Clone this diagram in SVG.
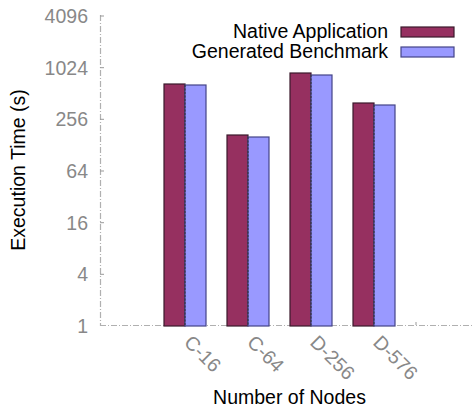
<svg xmlns="http://www.w3.org/2000/svg" width="474" height="413" viewBox="0 0 474 413">
<style>
text{font-family:"Liberation Sans",Arial,sans-serif;font-size:19.5px}
.tick{fill:#888;text-anchor:end}
.xl{fill:#888}
.title{fill:#000}
.axis{stroke:#b0b0b0;stroke-width:1.2;fill:none;stroke-dasharray:6 2 1 2}
.tk{stroke:#999;stroke-width:1}
.nat{fill:#963060;stroke:#3a1a2c;stroke-width:1.2}
.gen{fill:#9999ff;stroke:#444488;stroke-width:1.2}
.sep{stroke:#333;stroke-width:1;stroke-dasharray:2 1.5}
</style>
<rect width="474" height="413" fill="#fff"/>
<g id="axes">
<line class="axis" x1="100.5" y1="15" x2="100.5" y2="326"/>
<line class="axis" x1="100" y1="325.5" x2="474" y2="325.5"/>
<g class="tk">
<line x1="100" y1="16" x2="104" y2="16"/>
<line x1="100" y1="67.7" x2="104" y2="67.7"/>
<line x1="100" y1="119.3" x2="104" y2="119.3"/>
<line x1="100" y1="171" x2="104" y2="171"/>
<line x1="100" y1="222.7" x2="104" y2="222.7"/>
<line x1="100" y1="274.3" x2="104" y2="274.3"/>
<line x1="416" y1="322" x2="416" y2="325"/>
</g>
<text class="tick" x="88" y="23">4096</text>
<text class="tick" x="88" y="74.7">1024</text>
<text class="tick" x="88" y="126.3">256</text>
<text class="tick" x="88" y="178">64</text>
<text class="tick" x="88" y="229.7">16</text>
<text class="tick" x="88" y="281.3">4</text>
<text class="tick" x="88" y="333">1</text>
<text class="xl" transform="translate(183 343.5) rotate(45)">C-16</text>
<text class="xl" transform="translate(246 343.5) rotate(45)">C-64</text>
<text class="xl" transform="translate(309 343.5) rotate(45)">D-256</text>
<text class="xl" transform="translate(372 343.5) rotate(45)">D-576</text>
<text class="title" transform="translate(25 170) rotate(-90)" text-anchor="middle">Execution Time (s)</text>
<text class="title" x="289.5" y="404" text-anchor="middle">Number of Nodes</text>
</g>
<g id="bars">
<rect class="nat" x="164" y="84" width="21" height="242"/>
<rect class="gen" x="185" y="85" width="21" height="241"/>
<line class="sep" x1="185" y1="85" x2="185" y2="326"/>
<rect class="nat" x="227" y="135" width="21" height="191"/>
<rect class="gen" x="248" y="137" width="21" height="189"/>
<line class="sep" x1="248" y1="137" x2="248" y2="326"/>
<rect class="nat" x="290" y="73" width="21" height="253"/>
<rect class="gen" x="311" y="75" width="21" height="251"/>
<line class="sep" x1="311" y1="75" x2="311" y2="326"/>
<rect class="nat" x="353" y="103" width="21" height="223"/>
<rect class="gen" x="374" y="105" width="21" height="221"/>
<line class="sep" x1="374" y1="105" x2="374" y2="326"/>
</g>
<g id="legend">
<text class="title" x="388" y="38" text-anchor="end">Native Application</text>
<rect class="nat" x="401" y="27" width="53" height="10"/>
<text class="title" x="388" y="57.5" text-anchor="end">Generated Benchmark</text>
<rect class="gen" x="401" y="47" width="53" height="10"/>
</g>
</svg>
